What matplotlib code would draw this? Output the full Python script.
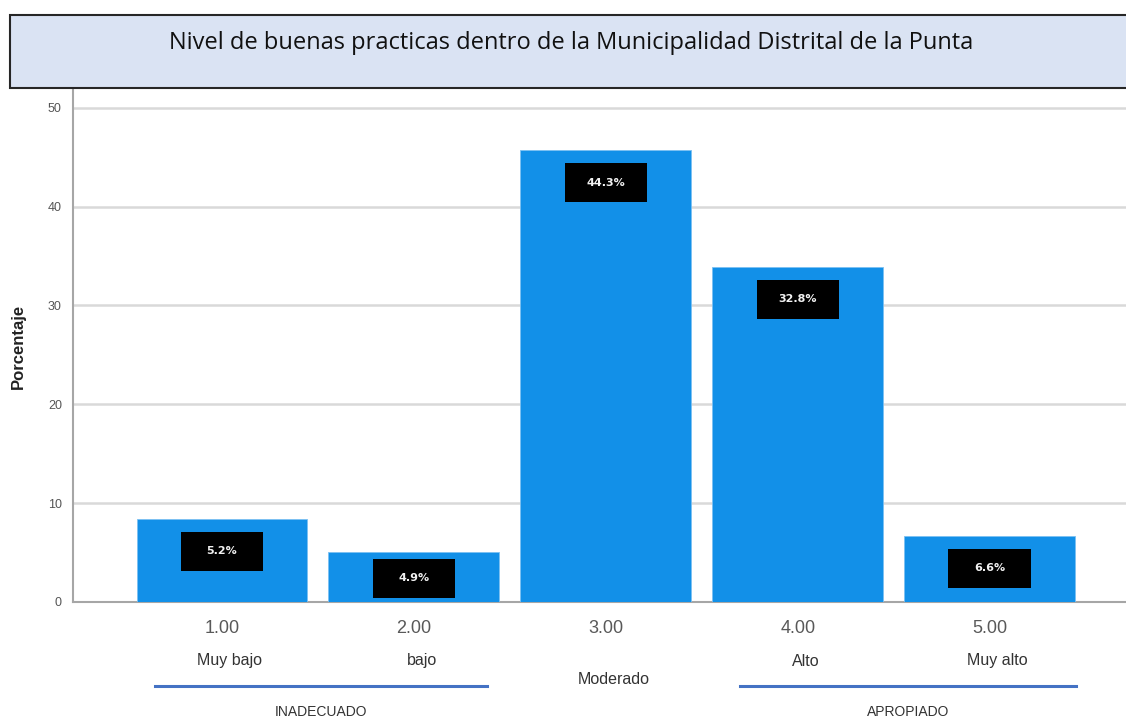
import matplotlib.pyplot as plt
from matplotlib.patches import Rectangle
import matplotlib.transforms as mtransforms

# datos
niveles = [1, 2, 3, 4, 5]
etiquetas_x = ['1.00', '2.00', '3.00', '4.00', '5.00']
categorias = ['Muy bajo', 'bajo', 'Moderado', 'Alto', 'Muy alto']
porcentaje = [8.4, 5.1, 45.7, 33.9, 6.7]
rotulos = ['5.2%', '4.9%', '44.3%', '32.8%', '6.6%']
grupos = ['INADECUADO', 'APROPIADO']
grupos_rango = [(1, 2), (4, 5)]

titulo = 'Nivel de buenas practicas dentro de la Municipalidad Distrital de la Punta'

plt.rcParams['font.family'] = ['Liberation Sans', 'DejaVu Sans']

fig = plt.figure(figsize=(11.26, 7.2), dpi=100)

# caja del titulo
caja = Rectangle((10 / 1126, 1 - 88 / 720), 1.2, 73 / 720, transform=fig.transFigure,
                 facecolor='#dae3f3', edgecolor='#262626', linewidth=1.5, zorder=0)
fig.patches.append(caja)
fig.text(571 / 1126, 1 - 43 / 720, titulo, ha='center', va='center', fontsize=17,
         family=['Open Sans', 'DejaVu Sans'], color='#111111')

ax = fig.add_axes([73 / 1126, 1 - 602 / 720, 1 - 73 / 1126, 512 / 720])

ax.bar(niveles, porcentaje, width=0.89, color='#1290e8', edgecolor='#7cc0f2',
       linewidth=0.6, zorder=3)

# rotulos en cajas negras
for x, h, r in zip(niveles, porcentaje, rotulos):
    top = h - 1.3
    if h < 6:
        top = h - 0.7
    ax.add_patch(Rectangle((x - 0.215, top - 3.95), 0.43, 3.95, facecolor='black', zorder=4))
    ax.text(x, top - 3.95 / 2, r, ha='center', va='center', color='#f2f2f2', fontsize=8,
            fontweight='bold', zorder=5, family=['DejaVu Sans'])

ax.set_xlim(0.224, 5.71)
ax.set_ylim(0, 51.8)
ax.set_yticks([0, 10, 20, 30, 40, 50])
ax.set_xticks(niveles)
ax.set_xticklabels(etiquetas_x, fontsize=13, color='#595959')
ax.tick_params(axis='x', length=0, pad=13)
ax.tick_params(axis='y', length=0, labelsize=9, labelcolor='#555555', pad=8)
ax.yaxis.grid(True, color='#d9d9d9', linewidth=1.8, zorder=0)
ax.set_axisbelow(True)
for s in ['top', 'right']:
    ax.spines[s].set_visible(False)
ax.spines['left'].set_color('#a6a6a6')
ax.spines['left'].set_linewidth(1.5)
ax.spines['bottom'].set_color('#a6a6a6')
ax.spines['bottom'].set_linewidth(1.5)
ax.set_ylabel('Porcentaje', fontsize=12, fontweight='bold', color='#222222', labelpad=16)

# etiquetas de categorias
trans = mtransforms.blended_transform_factory(ax.transData, fig.transFigure)
for x, c in zip(niveles, categorias):
    yy = 679 if c == 'Moderado' else 661
    ax.text(x + 0.04, 1 - yy / 720, c, ha='center', va='center', fontsize=11.5,
            color='#333333', transform=trans)

# lineas de grupos
extremos = [(-0.35, 0.38), (-0.30, 0.45)]
for g, (a, b), (da, db) in zip(grupos, grupos_rango, extremos):
    ax.plot([a + da, b + db], [1 - 686 / 720] * 2, color='#4472c4', linewidth=2.2,
            transform=trans, clip_on=False)
    ax.text((a + da + b + db) / 2, 1 - 712 / 720, g, ha='center', va='center', fontsize=10,
            color='#333333', transform=trans)

plt.savefig('out.png', dpi=100)
